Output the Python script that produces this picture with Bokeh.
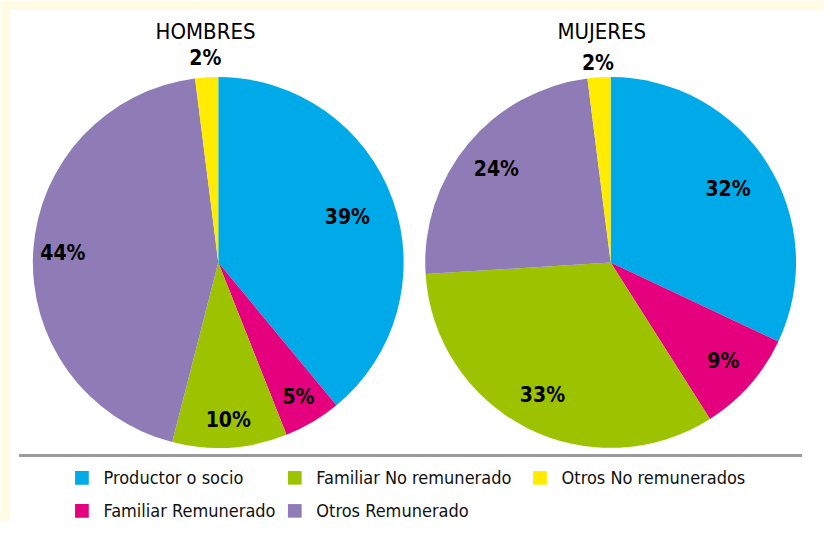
import math
from bokeh.plotting import figure
from bokeh.models import Range1d, ColumnDataSource
from bokeh.core.properties import value
from bokeh.embed import file_html
from bokeh.resources import INLINE

# ---- data ----
categories = ["Productor o socio", "Familiar Remunerado", "Familiar No remunerado",
              "Otros Remunerado", "Otros No remunerados"]
colors = ["#00AAE8", "#E5007E", "#9CC200", "#8F7BB6", "#FFEC00"]
hombres = [39, 5, 10, 44, 2]
mujeres = [32, 9, 33, 24, 2]
titles = ["HOMBRES", "MUJERES"]

# ---- layout (data space = reference pixel grid, y measured downwards) ----
W, H = 824, 522
RW, RH = 840, 538
CREAM = "#FFFBE4"
FONT = "DejaVu Sans Condensed, Roboto Condensed, Liberation Sans Narrow, Roboto, sans-serif"
label_r = [[0.74, 0.85, 0.86, 0.84, 1.115],
           [0.75, 0.81, 0.81, 0.80, 1.09]]


def Y(py):
    return RH - py


p = figure(width=W, height=H, x_range=Range1d(0, RW), y_range=Range1d(0, RH),
           x_axis_type=None, y_axis_type=None, toolbar_location=None,
           output_backend="svg", min_border=0)
p.outline_line_color = None
p.background_fill_color = CREAM
p.border_fill_color = CREAM
p.grid.visible = False

# white panel
p.quad(left=10, right=RW, top=Y(10), bottom=0, fill_color="white", line_color=None)

R = 189
centers = [(222, Y(270)), (622, Y(270))]
title_pos = [(209, Y(32)), (613, Y(32))]

for k, ((cx, cy), vals, title, (tx, ty)) in enumerate(
        zip(centers, [hombres, mujeres], titles, title_pos)):
    total = float(sum(vals))
    starts, ends, lx, ly, labs = [], [], [], [], []
    c = 0.0
    for j, v in enumerate(vals):
        c0 = c / total
        c1 = (c + v) / total
        c += v
        starts.append(math.pi / 2 - 2 * math.pi * c0)
        ends.append(math.pi / 2 - 2 * math.pi * c1)
        th = 2 * math.pi * (c0 + c1) / 2
        rl = R * label_r[k][j]
        lx.append(cx + rl * math.sin(th))
        ly.append(cy + rl * math.cos(th))
        labs.append(f"{v}%")
    src = ColumnDataSource(dict(start=starts, end=ends, color=colors, lx=lx, ly=ly, lab=labs))
    p.wedge(x=cx, y=cy, radius=R, start_angle="start", end_angle="end",
            direction="clock", fill_color="color", line_color=None, source=src)
    p.text(x="lx", y="ly", text="lab", source=src, text_align="center",
           text_baseline="middle", text_font=value(FONT), text_font_style="bold",
           text_font_size="21px", text_color="#000000")
    p.text(x=[tx], y=[ty], text=[title], text_align="center", text_baseline="middle",
           text_font=value(FONT), text_font_size="22px", text_color="#000000")

# separator line
p.segment(x0=19, x1=817, y0=Y(469), y1=Y(469), line_color="#9A9A9A", line_width=3)

# legend (column-major, 2 rows)
col_sq = [83, 300, 550]
row_y = [Y(492), Y(526)]
sx, sy, tx_, ty_ = [], [], [], []
for i, cat in enumerate(categories):
    col, row = divmod(i, 2)
    sx.append(col_sq[col])
    sy.append(row_y[row])
    tx_.append(col_sq[col] + 22)
    ty_.append(row_y[row])
p.rect(x=sx, y=sy, width=14, height=14, fill_color=colors, line_color=None)
p.text(x=tx_, y=ty_, text=categories, text_align="left", text_baseline="middle",
       text_font=value(FONT), text_font_size="18px", text_color="#111111")

open("out.html", "w").write(file_html(p, INLINE))
